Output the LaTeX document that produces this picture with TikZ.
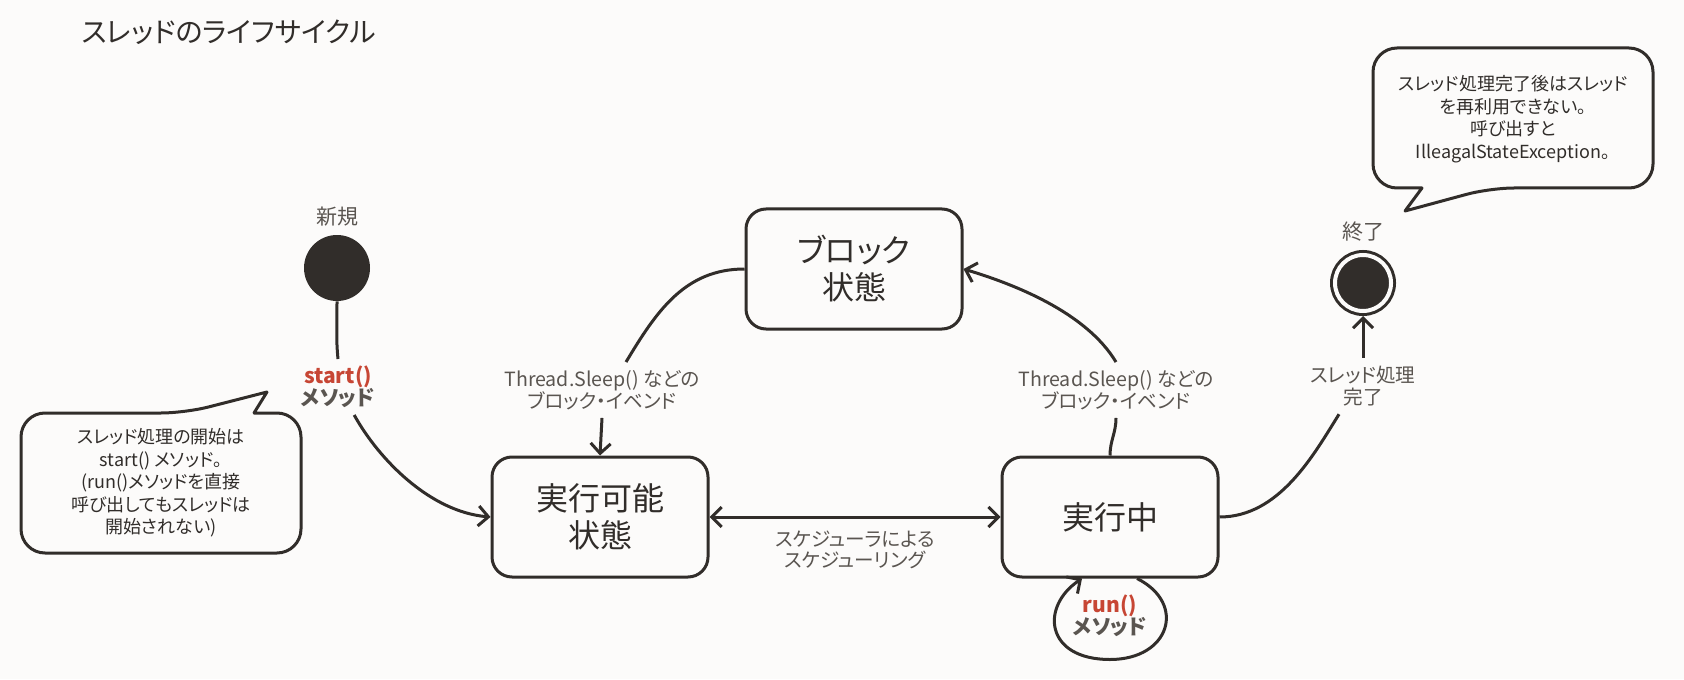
\documentclass[tikz,border=0pt]{standalone}
\usepackage{fontspec}
\setmainfont{Noto Sans CJK JP}[RawFeature=+palt]
\usetikzlibrary{positioning}
\usetikzlibrary{arrows.meta}

\definecolor{ink}{HTML}{312D2A}
\definecolor{grey}{HTML}{5A5550}
\definecolor{hot}{HTML}{C74634}
\definecolor{paper}{HTML}{FCFBFA}

\begin{document}
\begin{tikzpicture}[x=0.5pt,y=-0.5pt,
  wire/.style={draw=ink, line width=1.5pt},
  state/.style={rectangle, rounded corners=10pt, wire, fill=paper, minimum width=108pt, minimum height=60pt, align=center, text=ink, font=\fontsize{16}{18.5}\selectfont},
  lbl/.style={align=center, text=grey, inner sep=4pt, font=\fontsize{9.8}{10.8}\selectfont},
  meth/.style={align=center, text=grey, font=\bfseries\fontsize{10.5}{11}\selectfont},
  note/.style={align=center, text=ink, font=\fontsize{9}{11.25}\selectfont},
  bubble/.style={wire, fill=paper, rounded corners=12pt, line join=round, line cap=round},
  >={Straight Barb[length=5pt,width=10pt]}]

% background
\fill[paper] (0,0) rectangle (1684,679);
\useasboundingbox (0,0) rectangle (1684,679);

% title
\node (title) [anchor=west, inner sep=0, text=ink, font=\fontsize{14}{16}\selectfont] at (81,32) {スレッドのライフサイクル};

% start and end
\node (init) [circle, fill=ink, minimum size=33pt, inner sep=0, label={[lbl, font=\fontsize{10.5}{12}\selectfont]above:新規}] at (337,268) {};
\node (final) [circle, fill=ink, draw=ink, double=paper, double distance=2pt, line width=1.5pt, minimum size=28pt, inner sep=0, outer sep=2.5pt, label={[lbl, font=\fontsize{10.5}{12}\selectfont]above:終了}] at (1363,283) {};

% states
\node (runnable) [state] at (600,517) {実行可能\\状態};
\node (blocked) [state] at (854,269) {ブロック\\状態};
\node (running) [state] at (1110,517) {実行中};

% transition labels
\node (startlbl) [meth] at (338,387) {\textcolor{hot}{start()}\\メソッド};
\node (sleepA) [lbl] at (602,390) {Thread.Sleep() などの\\ブロック・イベンド};
\node (sleepB) [lbl] at (1116,390) {Thread.Sleep() などの\\ブロック・イベンド};
\node (donelbl) [lbl] at (1363,386) {スレッド処理\\完了};
\node (runlbl) [meth] at (1110,616) {\textcolor{hot}{run()}\\メソッド};

% transitions
\draw[wire] (init.south) .. controls +(0,25) and +(-2,-20) .. (startlbl.north);
\draw[wire, ->] (startlbl.-60) .. controls +(25,45) and +(-60,-5) .. (runnable.west);
\draw[wire] (blocked.west) .. controls +(-60,0) and +(30,-50) .. ([xshift=12pt]sleepA.north);
\draw[wire, ->] (sleepA.south) -- (runnable.north);
\draw[wire, <->] (runnable.east) -- (running.west) node (schedlbl) [lbl, midway, below=2pt] {スケジューラによる\\スケジューリング};
\draw[wire] (running.north) .. controls +(0,-15) and +(0,15) .. (sleepB.south);
\draw[wire, ->] (sleepB.north) .. controls +(-30,-50) and +(50,15) .. (blocked.east);
\draw[wire, ->] ([xshift=13.5pt]running.south) .. controls +(50,25) and +(60,0) .. ([yshift=-40.5pt]running.south)
  .. controls +(-65,0) and +(-42,28) .. ([xshift=-14pt]running.south);
\draw[wire] (running.east) .. controls +(60,0) and +(-25,40) .. ([xshift=-12pt]donelbl.south);
\draw[wire, ->] (donelbl.north) -- (final.south);

% notes
\draw[bubble] (254,413) -- (301,413) -- (301,553) -- (21,553) -- (21,413) -- (185,413) [sharp corners] -- (267,392) -- (254,413);
\node (startnote) [note] at (161,483) {スレッド処理の開始は\\start() メソッド。\\(run()メソッドを直接\\呼び出してもスレッドは\\開始されない)};

\draw[bubble] (1422,188) -- (1373,188) -- (1373,48) -- (1653,48) -- (1653,188) -- (1490,188) [sharp corners] -- (1405,211) -- (1422,188);
\node (endnote) [note] at (1513,119) {スレッド処理完了後はスレッド\\を再利用できない。\\呼び出すと\\IlleagalStateException。};

\end{tikzpicture}
\end{document}
